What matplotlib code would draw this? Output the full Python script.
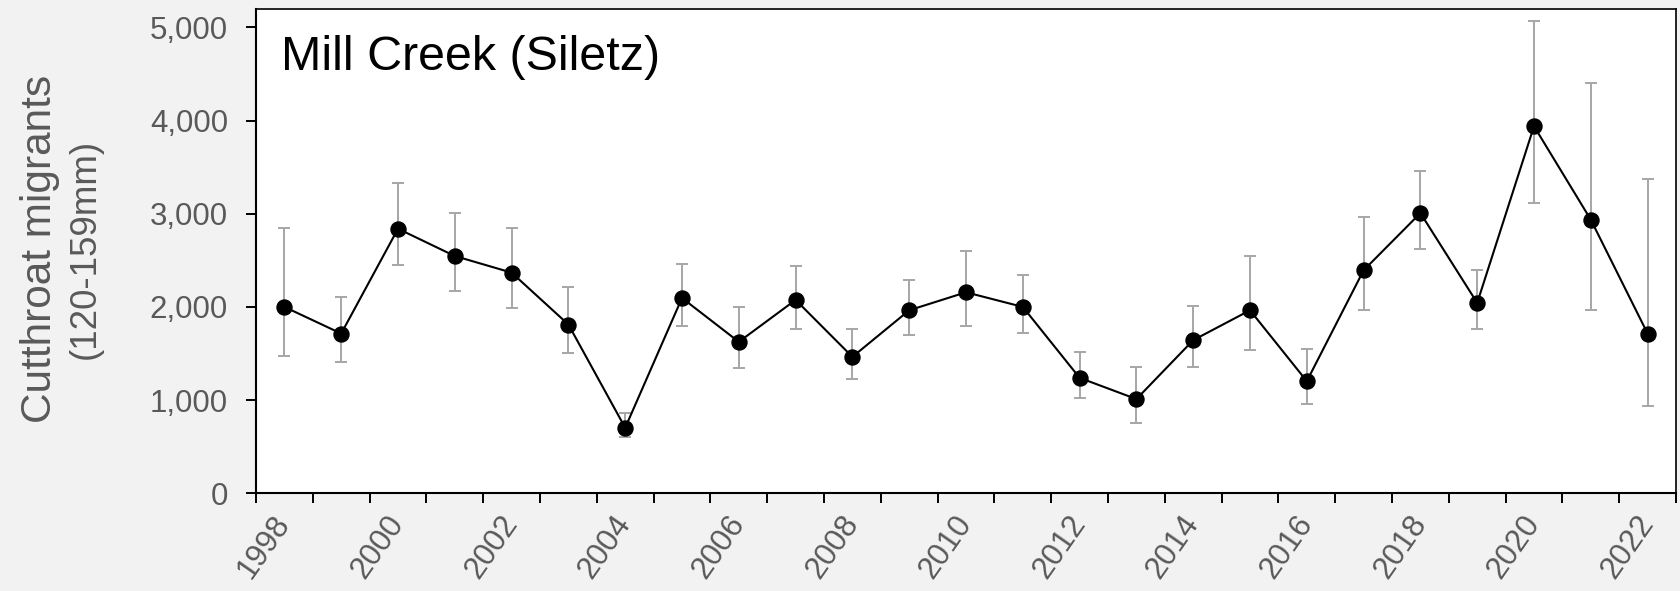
import matplotlib
matplotlib.use("Agg")
import matplotlib.pyplot as plt
from matplotlib.ticker import FixedLocator, FuncFormatter
import numpy as np

plt.rcParams['font.family'] = ['Liberation Sans', 'DejaVu Sans']

# ---- data ----
years = list(range(1998, 2023))
migrants = [2000, 1714, 2839, 2546, 2368, 1811, 703, 2096, 1625, 2075,
            1464, 1964, 2157, 2000, 1239, 1011, 1643, 1964, 1203, 2393,
            3007, 2043, 3939, 2936, 1714]
ci_upper = [2850, 2107, 3328, 3007, 2850, 2210, 857, 2457, 1998, 2443,
            1761, 2286, 2604, 2339, 1521, 1354, 2007, 2550, 1546, 2961,
            3461, 2400, 5071, 4407, 3375]
ci_lower = [1471, 1404, 2446, 2168, 1989, 1503, 600, 1793, 1341, 1768,
            1225, 1696, 1793, 1718, 1025, 750, 1354, 1536, 953, 1968,
            2625, 1764, 3114, 1971, 935]
title = "Mill Creek (Siletz)"
ylabel_main = "Cutthroat migrants"
ylabel_sub = "(120-159mm)"
y_ticks = [0, 1000, 2000, 3000, 4000, 5000]

GRAY_TXT = '#595959'
ERR = '#a6a6a6'

fig = plt.figure(figsize=(16.81, 5.91), dpi=100, facecolor='#f2f2f2')
ax = fig.add_axes([0.15229, 0.16531, 0.84474, 0.81997])
ax.set_facecolor('white')

x = np.arange(len(years))
y = np.array(migrants)
yerr = np.vstack([y - np.array(ci_lower), np.array(ci_upper) - y])

ax.errorbar(x, y, yerr=yerr, fmt='none', ecolor=ERR, elinewidth=1.4,
            capsize=4.3, capthick=1.4, zorder=2)
ax.plot(x, y, color='black', lw=1.5, marker='o', markersize=10.8,
        markerfacecolor='black', markeredgecolor='black', zorder=3)

ax.set_xlim(-0.5, len(years) - 0.5)
ax.set_ylim(0, 5200)

# y axis
ax.yaxis.set_major_locator(FixedLocator(y_ticks))
ax.yaxis.set_major_formatter(FuncFormatter(lambda v, p: f"{int(v):,}"))
ax.tick_params(axis='y', which='major', direction='out', length=7.2,
               width=1.4, color='black', labelsize=22.5, labelcolor=GRAY_TXT,
               pad=13)

# x axis: ticks at category boundaries, labels at centers of even years
label_idx = [i for i, yr in enumerate(years) if yr % 2 == 0]
ax.set_xticks(label_idx)
ax.set_xticklabels([str(years[i]) for i in label_idx])
ax.set_xticks(np.arange(-0.5, len(years), 1.0), minor=True)
ax.tick_params(axis='x', which='major', length=0, labelsize=22.5,
               labelcolor=GRAY_TXT, pad=18)
ax.tick_params(axis='x', which='minor', direction='out', length=7,
               width=1.4, color='black')
for lab in ax.get_xticklabels():
    lab.set_rotation(55)
    lab.set_rotation_mode('anchor')
    lab.set_ha('right')
    lab.set_va('center')

for side in ['left', 'bottom']:
    ax.spines[side].set_linewidth(1.5)
for side in ['top', 'right']:
    ax.spines[side].set_linewidth(1.2)
for s in ax.spines.values():
    s.set_color('black')

ax.text(0.0174, 0.8735, title, transform=ax.transAxes, fontsize=34.8,
        color='black', ha='left', va='baseline')

fig.text(0.0306, 0.5787, ylabel_main, rotation=90, rotation_mode='anchor',
         ha='center', va='baseline', fontsize=30.5, color=GRAY_TXT)
fig.text(0.0565, 0.5787, ylabel_sub, rotation=90, rotation_mode='anchor',
         ha='center', va='baseline', fontsize=26.5, color=GRAY_TXT)

fig.savefig('out.png', dpi=100, facecolor=fig.get_facecolor())
